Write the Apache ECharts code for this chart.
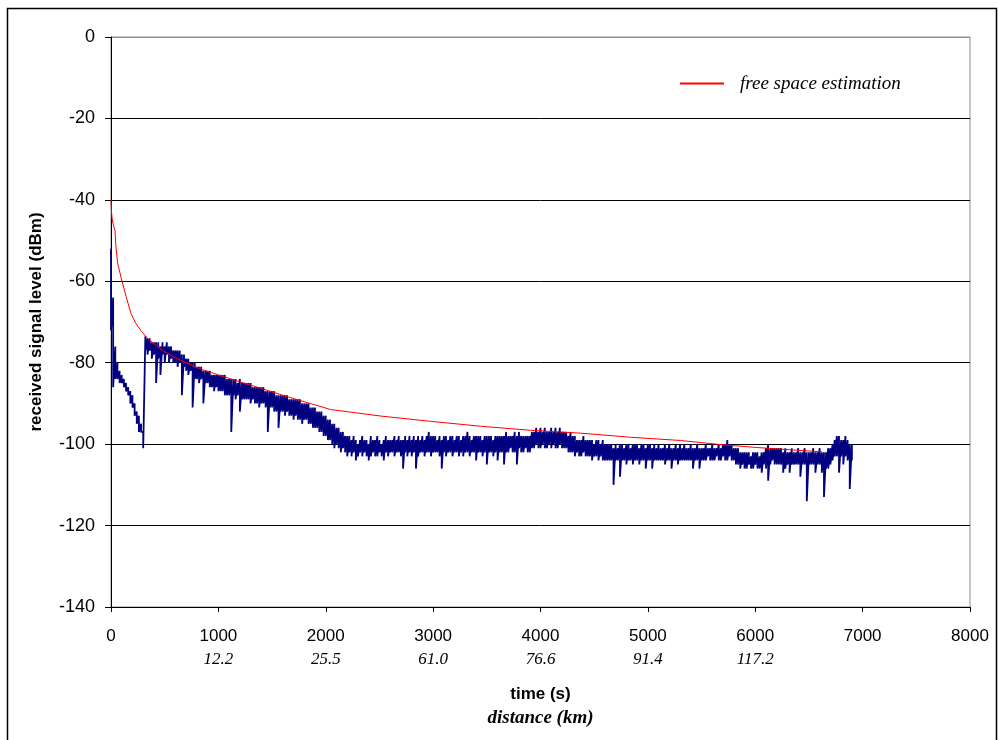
<!DOCTYPE html>
<html>
<head>
<meta charset="utf-8">
<script src="https://cdn.jsdelivr.net/npm/echarts@6/dist/echarts.min.js"></script>
<style>
html,body{margin:0;padding:0;background:#fff;}
#chart{width:998px;height:740px;}
</style>
</head>
<body>
<div id="chart"></div>
<script>
// ---- data ----
const xTicks = [0, 1000, 2000, 3000, 4000, 5000, 6000, 7000, 8000];
const distanceLabels = ['', '12.2', '25.5', '61.0', '76.6', '91.4', '117.2', '', ''];
const yTicks = [-140, -120, -100, -80, -60, -40, -20, 0];

// free space estimation (time s, level dBm)
const redTimes  = [0, 5, 10, 20, 37, 46, 62, 99, 140, 186, 230, 279, 340, 403, 500, 600, 698, 850, 1000, 1300, 1674, 2046, 2512, 2977, 3442, 3907, 4372, 4837, 5302, 5674, 6000, 6335, 6623];
const redLevels = [-40, -43, -44.5, -46, -47.5, -51.5, -55.6, -59.6, -63.7, -67.9, -70.3, -72.1, -74, -75.4, -77.3, -78.8, -80, -81.7, -83, -85.5, -88.6, -91.5, -93.1, -94.4, -95.6, -96.6, -97.3, -98.3, -99.1, -100.1, -100.8, -101.4, -101.9];

// measured signal: upper and lower edge of the noisy trace in each 20 s bin, from t = 0
const binStep = 20;
const measuredHigh = [
 -52,-64,-76,-80,-82,-83,-84,-85,-86,-87,-88,-90,-92,-93,-95,-97,
 -73.5,-74,-74,-75,-75,-75,-75,-76,-75,-76,-75,-76,-76,-77,-77,
 -77,-77,-78,-78,-79,-79,-80,-80,-80,-81,-81,-81,-82,-82,-82,-82,-83,-83,-83,-83,
 -83,-83,-83,-84,-84,-84,-84,-84,-85,-84,-85,-85,-85,-85,-85,-86,-86,-86,-86,-86,
 -86,-87,-87,-87,-87,-87,-88,-88,-88,-88,-88,-88,-89,-89,-89,-89,-89,-89,-90,-90,
 -90,-90,-91,-91,-91,-92,-92,-92,-93,-93,-94,-94,-95,-95,-96,-96,-97,-97,-98,-98,
 -98,-99,-98,-99,-100,-99,-98,-99,-99,-100,-98,-99,-99,-98,-99,-100,-99,-98,-99,-99,
 -99,-98,-99,-98,-99,-99,-98,-99,-98,-99,-98,-99,-98,-99,-98,-99,-98,-97,-98,-98,
 -98,-99,-98,-99,-98,-98,-99,-98,-98,-99,-98,-98,-99,-98,-98,-97,-98,-99,-98,-98,
 -98,-98,-99,-98,-98,-98,-98,-99,-98,-98,-98,-98,-98,-97,-98,-98,-98,-97,-98,-97,
 -98,-98,-98,-98,-98,-97,-97,-96,-97,-96,-97,-96,-97,-97,-96,-97,-96,-97,-96,-97,
 -97,-97,-98,-97,-98,-98,-99,-99,-99,-98,-99,-99,-99,-99,-100,-99,-99,-100,-99,-100,
 -100,-100,-100,-101,-100,-101,-100,-100,-101,-100,-100,-101,-100,-100,-100,-101,-100,-100,-101,-100,
 -100,-101,-100,-101,-100,-101,-101,-100,-101,-100,-101,-101,-100,-101,-100,-101,-100,-101,-101,-100,
 -101,-101,-100,-101,-101,-101,-100,-101,-101,-100,-101,-101,-100,-101,-100,-100,-99,-100,-100,-101,
 -101,-101,-102,-102,-102,-102,-102,-103,-102,-102,-102,-103,-102,-102,-101,-100,-101,-101,-101,-101,
 -101,-101,-102,-101,-102,-102,-101,-102,-102,-101,-102,-102,-101,-102,-102,-102,-101,-102,-102,-101,
 -102,-102,-102,-101,-101,-100,-99,-98,-98,-99,-99,-98,-99,-100,-100
];
const measuredLow = [
 -72,-86,-84,-84,-85,-85,-86,-87,-88,-90,-91,-93,-95,-97,-97,-101,
 -77,-78,-77,-79,-78,-85,-79,-83,-78,-80,-78,-80,-79,-80,-80,
 -81,-80,-88,-81,-82,-83,-82,-91,-84,-84,-85,-84,-90,-85,-85,-86,-86,-87,-86,-87,
 -87,-87,-88,-88,-88,-97,-88,-89,-88,-92,-89,-89,-89,-89,-90,-89,-90,-90,-91,-90,
 -90,-91,-97,-91,-91,-92,-92,-96,-92,-92,-93,-92,-93,-93,-94,-93,-94,-94,-95,-94,
 -94,-95,-95,-96,-96,-96,-97,-97,-98,-98,-99,-99,-100,-101,-100,-101,-102,-101,-102,-103,
 -102,-103,-102,-104,-103,-102,-103,-102,-103,-104,-103,-102,-103,-103,-102,-103,-104,-102,-103,-102,
 -102,-103,-102,-102,-103,-106,-102,-103,-102,-103,-102,-106,-103,-102,-102,-103,-102,-102,-103,-102,
 -102,-102,-103,-106,-102,-103,-102,-102,-103,-102,-102,-103,-102,-103,-102,-102,-103,-102,-102,-104,
 -102,-102,-103,-102,-105,-102,-102,-103,-102,-104,-102,-102,-105,-102,-102,-101,-102,-102,-105,-101,
 -102,-102,-101,-102,-102,-101,-101,-100,-101,-101,-100,-101,-101,-100,-101,-100,-101,-101,-100,-101,
 -101,-101,-102,-102,-102,-103,-102,-103,-103,-102,-103,-103,-103,-104,-103,-103,-104,-103,-104,-104,
 -104,-104,-104,-110,-104,-104,-108,-104,-104,-105,-104,-104,-105,-104,-104,-105,-104,-104,-106,-104,
 -104,-106,-104,-104,-104,-104,-104,-105,-104,-104,-106,-104,-104,-105,-104,-104,-104,-104,-104,-104,
 -106,-104,-104,-106,-104,-104,-104,-103,-104,-104,-104,-103,-104,-104,-103,-104,-104,-103,-104,-104,
 -105,-105,-106,-105,-106,-106,-105,-106,-106,-105,-106,-106,-107,-105,-106,-109,-105,-104,-105,-105,
 -105,-105,-107,-106,-105,-107,-105,-105,-105,-105,-108,-105,-105,-114,-105,-105,-105,-107,-105,-105,
 -107,-113,-106,-106,-105,-104,-103,-103,-107,-103,-105,-103,-104,-111,-104
];

// ---- build series data: each bin drawn from its upper to its lower edge ----
const measuredData = [];
measuredHigh.forEach((hi, i) => {
  measuredData.push([i * binStep, hi]);
  measuredData.push([i * binStep, measuredLow[i]]);
});
const redData = redTimes.map((t, i) => [t, redLevels[i]]);

const chart = echarts.init(document.getElementById('chart'), null, {renderer: 'canvas'});
const sans = 'Liberation Sans, Arial, sans-serif';
const serif = 'Liberation Serif, Times New Roman, serif';

chart.setOption({
  backgroundColor: '#fff',
  animation: false,
  graphic: [{
    type: 'rect', silent: true, z: 0,
    shape: {x: 7.5, y: 8.5, width: 989, height: 745},
    style: {fill: 'none', stroke: '#000', lineWidth: 1.5}
  }],
  legend: {
    left: 675, top: 69,
    itemWidth: 44, itemHeight: 2, itemGap: 0,
    icon: 'rect',
    data: [{name: 'free space estimation', itemStyle: {color: '#ff0000', borderWidth: 0}}],
    textStyle: {fontFamily: serif, fontStyle: 'italic', fontSize: 19, color: '#000', padding: [0, 0, 0, 11]}
  },
  grid: {left: 111, right: 28, top: 37, bottom: 133, show: true, borderColor: '#8c8c8c', borderWidth: 1, backgroundColor: '#fff'},
  xAxis: {
    type: 'value', min: 0, max: 8000, interval: 1000,
    axisLine: {show: true, onZero: false, lineStyle: {color: '#000', width: 1}},
    axisTick: {show: true, length: 5, lineStyle: {color: '#000'}},
    splitLine: {show: false},
    axisLabel: {
      margin: 17, color: '#000',
      formatter: function (v) {
        const i = xTicks.indexOf(v);
        const d = i >= 0 ? distanceLabels[i] : '';
        return '{n|' + v + '}\n{d|' + (d || ' ') + '}';
      },
      rich: {
        n: {fontFamily: sans, fontSize: 17, color: '#000', lineHeight: 24},
        d: {fontFamily: serif, fontStyle: 'italic', fontSize: 17, color: '#000', lineHeight: 24}
      }
    },
    name: '{t|time (s)}\n{d|distance (km)}',
    nameLocation: 'middle', nameGap: 75,
    nameTextStyle: {
      rich: {
        t: {fontFamily: sans, fontWeight: 'bold', fontSize: 17, color: '#000', lineHeight: 24},
        d: {fontFamily: serif, fontWeight: 'bold', fontStyle: 'italic', fontSize: 19, color: '#000', lineHeight: 24}
      }
    }
  },
  yAxis: {
    type: 'value', min: -140, max: 0, interval: 20,
    axisLine: {show: true, onZero: false, lineStyle: {color: '#000', width: 1}},
    axisTick: {show: true, length: 6, lineStyle: {color: '#000'}},
    axisLabel: {margin: 16, fontFamily: sans, fontSize: 18, color: '#000'},
    splitLine: {show: true, lineStyle: {color: ['#000', '#000', '#000', '#000', '#000', '#000', '#000', '#8c8c8c'], width: 1}},
    name: 'received signal level (dBm)',
    nameLocation: 'middle', nameGap: 66,
    nameTextStyle: {fontFamily: sans, fontWeight: 'bold', fontSize: 17, color: '#000'}
  },
  series: [
    {
      name: 'measured', type: 'line', data: measuredData,
      showSymbol: false, symbol: 'none',
      lineStyle: {color: '#000080', width: 1.8}, itemStyle: {color: '#000080'},
      z: 3
    },
    {
      name: 'free space estimation', type: 'line', data: redData,
      showSymbol: false, symbol: 'none', smooth: false,
      lineStyle: {color: '#ff0000', width: 1}, itemStyle: {color: '#ff0000'},
      z: 4
    }
  ]
});
</script>
</body>
</html>
